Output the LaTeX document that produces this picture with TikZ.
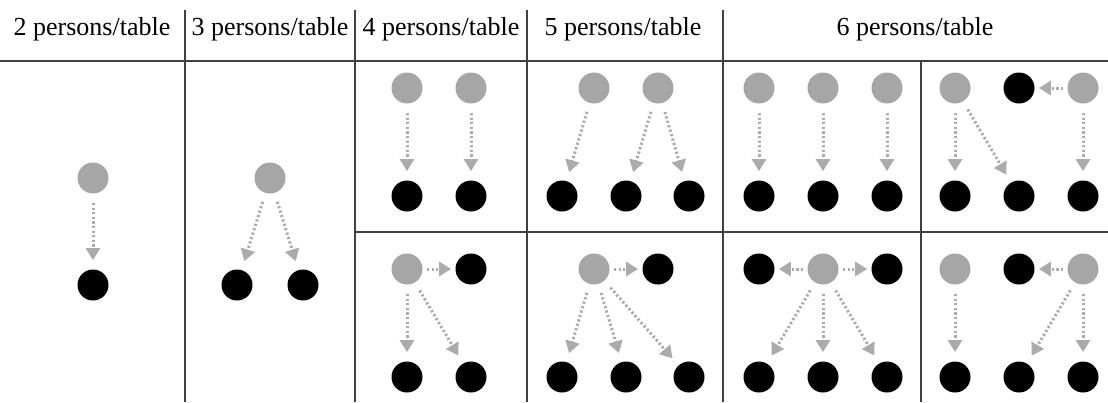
\documentclass[tikz,border=0pt]{standalone}
\usepackage{fontspec}
\setmainfont{Liberation Serif}
\usetikzlibrary{arrows.meta,positioning,calc}

\begin{document}
\begin{tikzpicture}[x=0.5pt,y=-0.5pt,
  host/.style={circle,fill=black!35,minimum size=15.5pt,inner sep=0pt},
  guest/.style={circle,fill=black,minimum size=15.5pt,inner sep=0pt},
  seat/.style={draw=black!33,line width=1.5pt,dash pattern=on 1.1pt off 1.2pt,
    -{Triangle[length=6pt,width=7pt]},shorten >=4.5pt,shorten <=4.5pt},
  near/.style={seat,shorten >=2pt,shorten <=2pt},
  rule/.style={black!75,line width=0.7pt},
  head/.style={font=\fontsize{13}{15}\selectfont,anchor=base}]
\useasboundingbox (0,0) rectangle (1108,402);

% table frame
\draw[rule] (0,61) -- (1108,61);
\draw[rule] (355,232) -- (1108,232);
\draw[rule] (185,10) -- (185,402);
\draw[rule] (355,10) -- (355,402);
\draw[rule] (527,10) -- (527,402);
\draw[rule] (723,10) -- (723,402);
\draw[rule] (921,61) -- (921,402);

\node[head] (h2) at (92,35) {2 persons/table};
\node[head] (h3) at (270,35) {3 persons/table};
\node[head] (h4) at (441,35) {4 persons/table};
\node[head] (h5) at (623,35) {5 persons/table};
\node[head] (h6) at (915,35) {6 persons/table};

% 2 persons
\node[host] (g2) at (93,178) {};
\node[guest] (b2) at (93,285) {};
\draw[seat] (g2) -- (b2);

% 3 persons
\node[host] (g3) at (270,178) {};
\node[guest] (b3a) at (237,285) {};
\node[guest] (b3b) at (303,285) {};
\draw[seat] (g3) -- (b3a);
\draw[seat] (g3) -- (b3b);

% 4 persons, top
\node[host] (g4a) at (407,88) {};
\node[host] (g4b) at (471,88) {};
\node[guest] (b4a) at (407,196) {};
\node[guest] (b4b) at (471,196) {};
\draw[seat] (g4a) -- (b4a);
\draw[seat] (g4b) -- (b4b);

% 4 persons, bottom
\node[host] (g4c) at (407,269) {};
\node[guest] (b4c) at (471,269) {};
\node[guest] (b4d) at (407,377) {};
\node[guest] (b4e) at (471,377) {};
\draw[near] (g4c) -- (b4c);
\draw[seat] (g4c) -- (b4d);
\draw[seat] (g4c) -- (b4e);

% 5 persons, top
\node[host] (g5a) at (594,88) {};
\node[host] (g5b) at (658,88) {};
\node[guest] (b5a) at (562,196) {};
\node[guest] (b5b) at (626,196) {};
\node[guest] (b5c) at (689,196) {};
\draw[seat] (g5a) -- (b5a);
\draw[seat] (g5b) -- (b5b);
\draw[seat] (g5b) -- (b5c);

% 5 persons, bottom
\node[host] (g5c) at (594,269) {};
\node[guest] (b5d) at (658,269) {};
\node[guest] (b5e) at (562,377) {};
\node[guest] (b5f) at (626,377) {};
\node[guest] (b5g) at (689,377) {};
\draw[near] (g5c) -- (b5d);
\draw[seat] (g5c) -- (b5e);
\draw[seat] (g5c) -- (b5f);
\draw[seat] (g5c) -- (b5g);

% 6 persons, top left
\node[host] (g6a) at (759,88) {};
\node[host] (g6b) at (823,88) {};
\node[host] (g6c) at (887,88) {};
\node[guest] (b6a) at (759,196) {};
\node[guest] (b6b) at (823,196) {};
\node[guest] (b6c) at (887,196) {};
\draw[seat] (g6a) -- (b6a);
\draw[seat] (g6b) -- (b6b);
\draw[seat] (g6c) -- (b6c);

% 6 persons, top right
\node[host] (g6d) at (955,88) {};
\node[guest] (b6d) at (1019,88) {};
\node[host] (g6e) at (1083,88) {};
\node[guest] (b6e) at (955,196) {};
\node[guest] (b6f) at (1019,196) {};
\node[guest] (b6g) at (1083,196) {};
\draw[seat] (g6d) -- (b6e);
\draw[seat] (g6d) -- (b6f);
\draw[seat] (g6e) -- (b6g);
\draw[near] (g6e) -- (b6d);

% 6 persons, bottom left
\node[guest] (b6h) at (759,269) {};
\node[host] (g6f) at (823,269) {};
\node[guest] (b6i) at (887,269) {};
\node[guest] (b6j) at (759,377) {};
\node[guest] (b6k) at (823,377) {};
\node[guest] (b6l) at (887,377) {};
\draw[near] (g6f) -- (b6h);
\draw[near] (g6f) -- (b6i);
\draw[seat] (g6f) -- (b6j);
\draw[seat] (g6f) -- (b6k);
\draw[seat] (g6f) -- (b6l);

% 6 persons, bottom right
\node[host] (g6g) at (955,269) {};
\node[guest] (b6m) at (1019,269) {};
\node[host] (g6h) at (1083,269) {};
\node[guest] (b6n) at (955,377) {};
\node[guest] (b6o) at (1019,377) {};
\node[guest] (b6p) at (1083,377) {};
\draw[seat] (g6g) -- (b6n);
\draw[near] (g6h) -- (b6m);
\draw[seat] (g6h) -- (b6o);
\draw[seat] (g6h) -- (b6p);
\end{tikzpicture}
\end{document}
